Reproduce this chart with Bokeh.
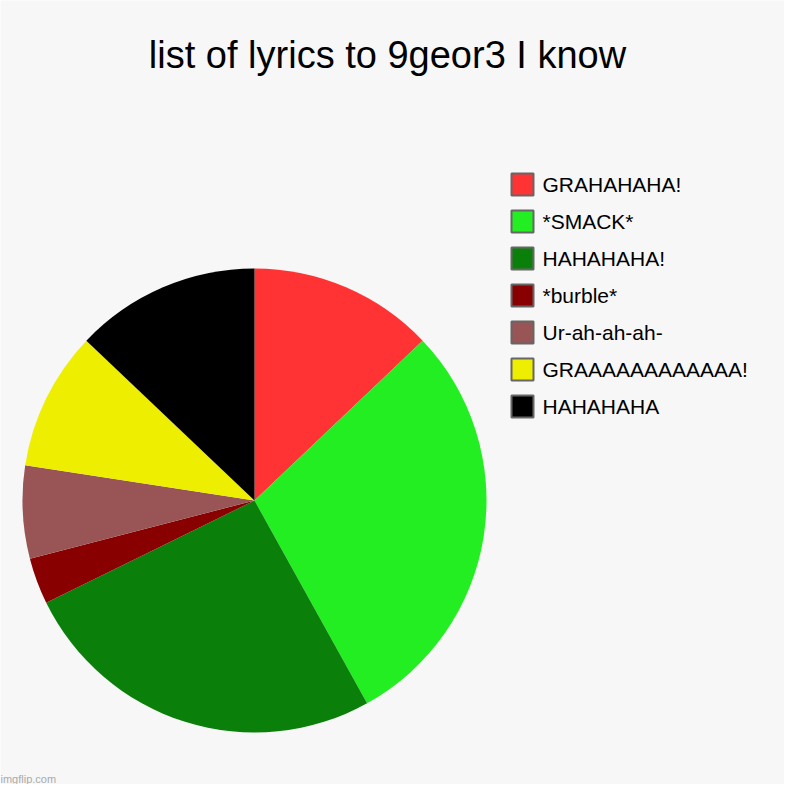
import math

from bokeh.core.properties import value
from bokeh.embed import file_html
from bokeh.models import ColumnDataSource, Range1d
from bokeh.plotting import figure
from bokeh.resources import INLINE

# data
labels = ["GRAHAHAHA!", "*SMACK*", "HAHAHAHA!", "*burble*",
          "Ur-ah-ah-ah-", "GRAAAAAAAAAAAA!", "HAHAHAHA"]
counts = [4, 9, 8, 1, 2, 3, 4]
colors = ["#ff3333", "#22ee22", "#0a800a", "#880000",
          "#995555", "#eeee00", "#000000"]
title_text = "list of lyrics to 9geor3 I know"

W = H = 784
BG = "#f7f7f7"
FONT = "Liberation Sans"

# wedges start at 12 o'clock and run clockwise
total = float(sum(counts))
starts, ends = [], []
cum = 0.0
for c in counts:
    a0 = math.pi / 2 - 2 * math.pi * cum / total
    cum += c
    a1 = math.pi / 2 - 2 * math.pi * cum / total
    starts.append(a1)
    ends.append(a0)

src = ColumnDataSource(dict(label=labels, count=counts, color=colors,
                            start=starts, end=ends))

p = figure(width=W, height=H, output_backend="svg", toolbar_location=None,
           x_range=Range1d(0, W), y_range=Range1d(0, H),
           min_border=0, outline_line_color=None,
           background_fill_color=BG, border_fill_color=BG)
p.axis.visible = False
p.grid.visible = False

cx, cy, r = 254, 284, 232
p.wedge(x=cx, y=cy, radius=r, start_angle="start", end_angle="end",
        fill_color="color", line_color=None, source=src)

# legend
rows = list(range(len(labels)))
ly = [600 - 37 * i for i in rows]
leg = ColumnDataSource(dict(y=ly, label=labels, color=colors))
p.rect(x=522, y="y", width=22, height=22, fill_color="color",
       line_color="#666666", line_width=2, source=leg)
p.text(x=542, y="y", text="label", text_font=value(FONT),
       text_font_size="21px", text_baseline="middle", text_color="#000000",
       source=leg)

# title
p.text(x=[387], y=[730], text=[title_text], text_font=value(FONT),
       text_font_size="38px", text_align="center",
       text_baseline="alphabetic", text_color="#000000")

# watermark
p.text(x=[0], y=[0], text=["imgflip.com"], text_font=value(FONT),
       text_font_size="11px", text_baseline="bottom", text_color="#aaaaaa")

open("out.html", "w").write(file_html(p, INLINE))
